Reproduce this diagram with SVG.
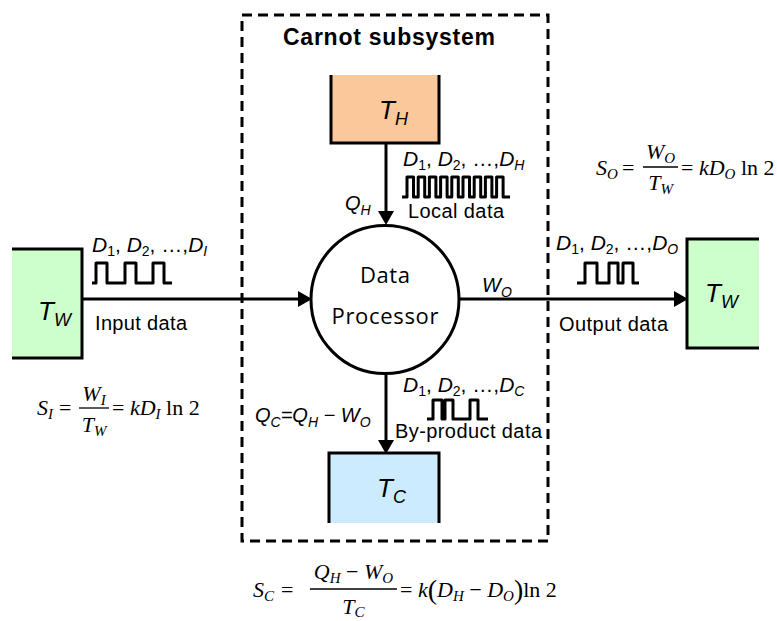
<svg xmlns="http://www.w3.org/2000/svg" width="777" height="621" viewBox="0 0 777 621">
<style>
.lab{font-family:"Liberation Sans",Arial,sans-serif;font-size:20px;fill:#000}
.dl{font-family:"Liberation Sans",Arial,sans-serif;font-size:21px;fill:#000}
.i{font-style:italic}
.s{font-size:14px}
.nd{font-family:"Liberation Sans",Arial,sans-serif;font-size:26px;font-style:italic;fill:#000}
.ns{font-size:18px}
.eq{font-family:"Liberation Serif","Times New Roman",serif;font-size:22px;fill:#000}
.es{font-size:15px;font-style:italic}
.pr{font-size:28px}
.ln{stroke:#000;stroke-width:3;fill:none}
.pl{stroke:#000;stroke-width:3;fill:none;stroke-linejoin:round}
.bar{stroke:#000;stroke-width:1.3}
</style>
<defs>
<marker id="ah" markerUnits="userSpaceOnUse" markerWidth="14" markerHeight="16" refX="9" refY="8" orient="auto">
<path d="M0,0 L14,8 L0,16 Z" fill="#000"/>
</marker>
</defs>
<rect width="777" height="621" fill="#fff"/>

<g id="subsystem">
<rect x="242" y="15" width="306" height="526" fill="none" stroke="#000" stroke-width="3" stroke-dasharray="10,6"/>
<text x="283" y="45" font-family="Liberation Sans,Arial,sans-serif" font-size="23" font-weight="bold" textLength="212">Carnot subsystem</text>
</g>

<g id="connectors">
<line class="ln" x1="82" y1="299" x2="307" y2="299" marker-end="url(#ah)"/>
<line class="ln" x1="460" y1="299" x2="683" y2="299" marker-end="url(#ah)"/>
<line class="ln" x1="386" y1="143" x2="386" y2="220" marker-end="url(#ah)"/>
<line class="ln" x1="386" y1="375" x2="386" y2="449" marker-end="url(#ah)"/>
<path class="pl" d="M92,283 H96 V263 H107 V283 H125 V263 H136 V283 H153 V263 H164 V283 H172"/>
<path class="pl" d="M577,283 H585 V263 H597 V283 H609 V263 H618 V283 H623 V263 H633 V283 H639"/>
<path class="pl" d="M402,197 H407 V177 H413.5 V197 H418.2 V177 H424.7 V197 H429.4 V177 H435.9 V197 H440.6 V177 H447.1 V197 H451.8 V177 H458.3 V197 H463 V177 H469.5 V197 H474.2 V177 H480.7 V197 H485.4 V177 H491.9 V197 H496.6 V177 H503.1 V197 H510"/>
<path class="pl" d="M427,419 H433 V400 H442 V419 H445 V400 H453 V419 H470 V400 H478 V419 H488"/>
<text class="dl" y="252"><tspan x="92" class="i">D</tspan><tspan class="s" dy="4">1</tspan><tspan dy="-4">, </tspan><tspan class="i">D</tspan><tspan class="s" dy="4">2</tspan><tspan dy="-4">, …,</tspan><tspan class="i">D</tspan><tspan class="s i" dy="4">I</tspan></text>
<text class="lab" x="95" y="330" textLength="92">Input data</text>
<text class="dl" y="250"><tspan x="556" class="i">D</tspan><tspan class="s" dy="4">1</tspan><tspan dy="-4">, </tspan><tspan class="i">D</tspan><tspan class="s" dy="4">2</tspan><tspan dy="-4">, …,</tspan><tspan class="i">D</tspan><tspan class="s i" dy="4">O</tspan></text>
<text class="lab" x="559" y="331" textLength="109">Output data</text>
<text class="lab i" y="292"><tspan x="482">W</tspan><tspan class="s" dy="5">O</tspan></text>
<text class="dl" y="166"><tspan x="403" class="i">D</tspan><tspan class="s" dy="4">1</tspan><tspan dy="-4">, </tspan><tspan class="i">D</tspan><tspan class="s" dy="4">2</tspan><tspan dy="-4">, …,</tspan><tspan class="i">D</tspan><tspan class="s i" dy="4">H</tspan></text>
<text class="lab i" y="210"><tspan x="345">Q</tspan><tspan class="s" dy="5">H</tspan></text>
<text class="lab" x="408" y="218" textLength="96">Local data</text>
<text class="dl" y="392"><tspan x="403" class="i">D</tspan><tspan class="s" dy="4">1</tspan><tspan dy="-4">, </tspan><tspan class="i">D</tspan><tspan class="s" dy="4">2</tspan><tspan dy="-4">, …,</tspan><tspan class="i">D</tspan><tspan class="s i" dy="4">C</tspan></text>
<text class="lab i" y="422"><tspan x="255">Q</tspan><tspan class="s" dy="5">C</tspan><tspan dy="-5">=Q</tspan><tspan class="s" dy="5">H</tspan><tspan dy="-5"> − W</tspan><tspan class="s" dy="5">O</tspan></text>
<text class="lab" x="395" y="438" textLength="147">By-product data</text>
</g>

<g id="TW_in">
<rect x="12" y="249" width="70" height="109" fill="#CCFFCC"/>
<path class="ln" d="M12,249 H82 V358 H12"/>
<text class="nd" y="320"><tspan x="38">T</tspan><tspan class="ns" dy="6">W</tspan></text>
</g>

<g id="TW_out">
<rect x="687" y="239" width="72" height="109" fill="#CCFFCC"/>
<path class="ln" d="M759,239 H687 V348 H759"/>
<text class="nd" y="302"><tspan x="705">T</tspan><tspan class="ns" dy="6">W</tspan></text>
</g>

<g id="TH">
<rect x="331" y="75" width="108" height="68" fill="#FAC89A"/>
<path class="ln" d="M331,75 V143 H439 V75"/>
<text class="nd" y="119"><tspan x="379">T</tspan><tspan class="ns" dy="6">H</tspan></text>
</g>

<g id="TC">
<rect x="329" y="453" width="110" height="70" fill="#CCEBFF"/>
<path class="ln" d="M329,523 V453 H439 V523"/>
<text class="nd" y="497"><tspan x="377">T</tspan><tspan class="ns" dy="6">C</tspan></text>
</g>

<g id="processor">
<circle cx="385" cy="299.5" r="74" fill="#fff" stroke="#000" stroke-width="3"/>
<text x="385" y="283" text-anchor="middle" font-family="Open Sans,Liberation Sans,sans-serif" font-size="22" textLength="50">Data</text>
<text x="385" y="324" text-anchor="middle" font-family="Open Sans,Liberation Sans,sans-serif" font-size="22" textLength="107">Processor</text>
</g>

<g id="eq_SI" class="eq">
<text y="415"><tspan x="37" class="i">S</tspan><tspan dy="4" class="es">I</tspan><tspan dy="-4" x="59">=</tspan></text>
<text x="94" y="401" text-anchor="middle"><tspan class="i">W</tspan><tspan dy="4" class="es">I</tspan></text>
<line class="bar" x1="79" y1="408" x2="109" y2="408"/>
<text x="94" y="432" text-anchor="middle"><tspan class="i">T</tspan><tspan dy="4" class="es">W</tspan></text>
<text x="112" y="415">= <tspan class="i">kD</tspan><tspan dy="4" class="es">I</tspan><tspan dy="-4"> ln 2</tspan></text>
</g>

<g id="eq_SO" class="eq">
<text y="175"><tspan x="596" class="i">S</tspan><tspan dy="4" class="es">O</tspan><tspan dy="-4" x="622">=</tspan></text>
<text x="660.5" y="159" text-anchor="middle"><tspan class="i">W</tspan><tspan dy="4" class="es">O</tspan></text>
<line class="bar" x1="643" y1="167" x2="678" y2="167"/>
<text x="660.5" y="190" text-anchor="middle"><tspan class="i">T</tspan><tspan dy="4" class="es">W</tspan></text>
<text x="681" y="175">= <tspan class="i">kD</tspan><tspan dy="4" class="es">O</tspan><tspan dy="-4"> ln 2</tspan></text>
</g>

<g id="eq_SC" class="eq">
<text y="597"><tspan x="253" class="i">S</tspan><tspan dy="4" class="es">C</tspan><tspan dy="-4" x="281">=</tspan></text>
<text x="353.5" y="579" text-anchor="middle"><tspan class="i">Q</tspan><tspan dy="4" class="es">H</tspan><tspan dy="-4"> − </tspan><tspan class="i">W</tspan><tspan dy="4" class="es">O</tspan></text>
<line class="bar" x1="310" y1="589" x2="397" y2="589"/>
<text x="353.5" y="614" text-anchor="middle"><tspan class="i">T</tspan><tspan dy="3" class="es">C</tspan></text>
<text x="400" y="597">= <tspan class="i">k</tspan><tspan class="pr" dy="2">(</tspan><tspan class="i" dy="-2">D</tspan><tspan dy="4" class="es">H</tspan><tspan dy="-4"> − </tspan><tspan class="i">D</tspan><tspan dy="4" class="es">O</tspan><tspan class="pr" dy="-2">)</tspan><tspan dy="-2">ln 2</tspan></text>
</g>
</svg>
